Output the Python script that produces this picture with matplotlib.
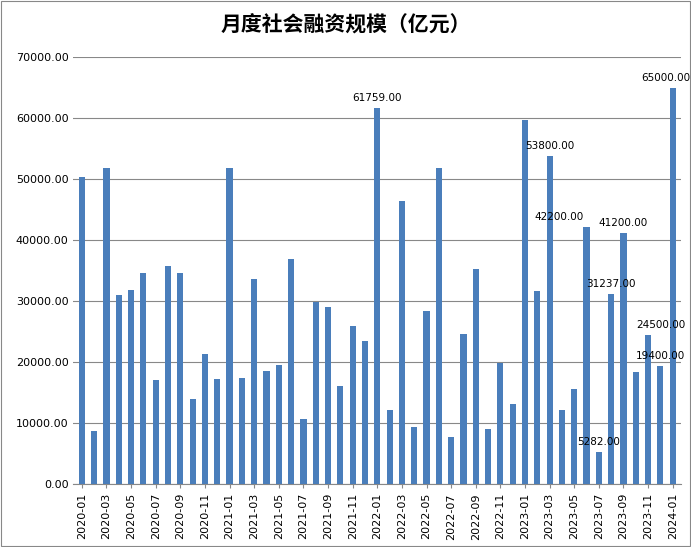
import matplotlib
matplotlib.use('Agg')
import matplotlib.pyplot as plt

months = [f'{y}-{m:02d}' for y in range(2020, 2024) for m in range(1, 13)] + ['2024-01']
values = [
    50400, 8700, 51800, 31100, 31900, 34700, 17100, 35800, 34700, 14000, 21400, 17200,
    51900, 17400, 33700, 18600, 19500, 37000, 10700, 29900, 29000, 16100, 26000, 23500,
    61759, 12200, 46500, 9300, 28400, 51900, 7700, 24600, 35300, 9000, 19900, 13100,
    59800, 31600, 53800, 12200, 15600, 42200, 5282, 31237, 41200, 18400, 24500, 19400,
    65000,
]
# labelled bars and their horizontal label shift (in bar slots)
labelled = {'2022-01': 0, '2023-03': 0, '2023-06': -2.2, '2023-07': 0, '2023-08': 0,
            '2023-09': 0, '2023-11': 1.0, '2023-12': 0, '2024-01': -0.6}
tick_labels = months[::2]

plt.rcParams['font.family'] = ['Noto Sans CJK SC', 'DejaVu Sans']

fig = plt.figure(figsize=(6.91, 5.47), dpi=100)
ax = fig.add_axes([0.106, 0.115, 0.88, 0.78])

x = list(range(len(months)))
ax.bar(x, values, width=0.5, color='#4a7ebb', zorder=3)

for i, (m, v) in enumerate(zip(months, values)):
    if m in labelled:
        ax.text(i + labelled[m], v + 800, f'{v:.2f}', ha='center', va='bottom',
                fontsize=7.5, family='DejaVu Sans', zorder=4)

ax.set_ylim(0, 70000)
ax.set_yticks(range(0, 70001, 10000))
ax.set_yticklabels([f'{t:.2f}' for t in range(0, 70001, 10000)], fontsize=8,
                   family='DejaVu Sans')
ax.set_xlim(-0.7, len(months) - 0.3)
ax.set_xticks(x[::2])
ax.set_xticklabels(tick_labels, rotation=90, fontsize=8, family='DejaVu Sans')
ax.tick_params(axis='y', length=0)
ax.tick_params(axis='x', length=3, color='#888888')
ax.grid(axis='y', color='#888888', linewidth=0.8, zorder=0)
for s in ['top', 'right', 'left']:
    ax.spines[s].set_visible(False)
ax.spines['bottom'].set_color('#888888')

fig.text(0.5, 0.955, '月度社会融资规模（亿元）', ha='center', va='center',
         fontsize=15, fontweight='bold')

fig.patches.append(plt.Rectangle((0.002, 0.002), 0.996, 0.996, transform=fig.transFigure,
                                 fill=False, edgecolor='#888888', linewidth=0.8))

fig.savefig('out.png', dpi=100)
